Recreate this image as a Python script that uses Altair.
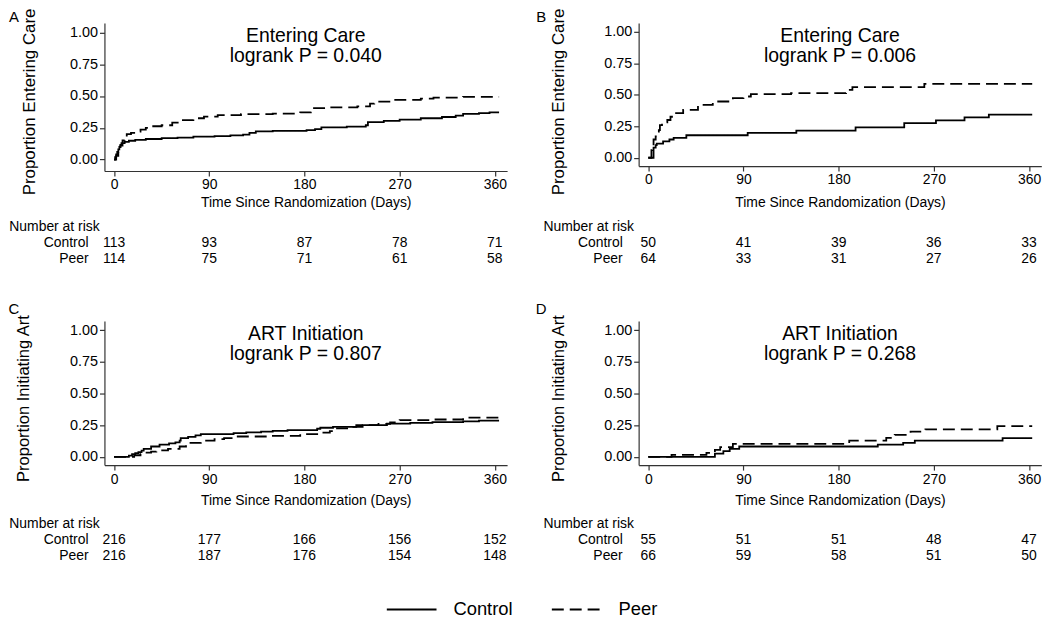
import altair as alt
import pandas as pd

FONT = "Liberation Sans"
W = 405
XDOM = [-9.1, 371.6]
TICKS = [0, 90, 180, 270, 360]
YTICKS = [0, 0.25, 0.5, 0.75, 1.0]
GROUPS = ["Control", "Peer"]
XTITLE = "Time Since Randomization (Days)"

# ---------------- Panel A: Entering Care ----------------
A_ctrl_day = [0, 1, 2, 3, 4, 5, 6, 7, 10, 14, 20, 30, 45, 60, 75, 95, 110, 122, 128, 134, 150,
              182, 190, 196, 220, 238, 240, 255, 270, 290, 310, 323, 330, 345, 355, 364]
A_ctrl_val = [0, 0.02, 0.04, 0.06, 0.08, 0.10, 0.115, 0.13, 0.14, 0.148, 0.155, 0.162, 0.168, 0.172,
              0.18, 0.185, 0.19, 0.197, 0.21, 0.222, 0.225, 0.232, 0.24, 0.253, 0.26, 0.27, 0.295,
              0.305, 0.315, 0.325, 0.335, 0.345, 0.36, 0.365, 0.372, 0.372]
A_peer_day = [0, 2, 4, 6, 8, 10, 12, 16, 20, 25, 30, 37, 45, 55, 62, 75, 85, 98, 120, 150, 176,
              186, 200, 230, 242, 246, 262, 290, 302, 330, 364]
A_peer_val = [0, 0.03, 0.07, 0.11, 0.15, 0.17, 0.20, 0.21, 0.22, 0.235, 0.25, 0.262, 0.27, 0.29,
              0.31, 0.325, 0.338, 0.35, 0.358, 0.362, 0.372, 0.405, 0.41, 0.418, 0.44, 0.455, 0.47,
              0.48, 0.488, 0.493, 0.493]
A_risk_ctrl = [113, 93, 87, 78, 71]
A_risk_peer = [114, 75, 71, 61, 58]

# ---------------- Panel B: Entering Care ----------------
B_ctrl_day = [0, 5, 7, 8, 14, 20, 24, 36, 94, 140, 196, 242, 272, 299, 322, 363]
B_ctrl_val = [0, 0.08, 0.10, 0.113, 0.131, 0.145, 0.158, 0.179, 0.197, 0.216, 0.242, 0.276,
              0.297, 0.321, 0.342, 0.342]
B_peer_day = [0, 3, 4, 5, 7, 8, 10, 11, 13, 18, 21, 25, 33, 47, 61, 80, 90, 97, 135, 187, 193,
              261, 363]
B_peer_val = [0, 0.06, 0.10, 0.145, 0.17, 0.19, 0.22, 0.26, 0.281, 0.30, 0.326, 0.355, 0.381,
              0.421, 0.447, 0.474, 0.487, 0.505, 0.513, 0.539, 0.561, 0.587, 0.587]
B_risk_ctrl = [50, 41, 39, 36, 33]
B_risk_peer = [64, 33, 31, 27, 26]

# ---------------- Panel C: ART Initiation ----------------
C_ctrl_day = [0, 10, 14, 17, 20, 23, 26, 28, 35, 43, 52, 58, 62, 63, 70, 77, 82, 113, 125, 139,
              150, 164, 192, 195, 207, 229, 258, 280, 301, 330, 345, 364]
C_ctrl_val = [0, 0, 0.01, 0.021, 0.03, 0.038, 0.05, 0.064, 0.082, 0.097, 0.107, 0.115, 0.128,
              0.148, 0.158, 0.17, 0.179, 0.187, 0.193, 0.199, 0.205, 0.212, 0.222, 0.23, 0.237,
              0.25, 0.263, 0.268, 0.275, 0.28, 0.286, 0.286]
C_peer_day = [0, 17, 19, 25, 29, 35, 40, 51, 62, 68, 71, 82, 95, 104, 113, 145, 176, 193, 204,
              208, 222, 235, 250, 261, 270, 300, 330, 364]
C_peer_val = [0, 0, 0.013, 0.022, 0.033, 0.042, 0.051, 0.064, 0.082, 0.095, 0.11, 0.128, 0.141,
              0.148, 0.161, 0.166, 0.179, 0.191, 0.204, 0.225, 0.237, 0.25, 0.26, 0.273, 0.29,
              0.295, 0.31, 0.312]
C_risk_ctrl = [216, 177, 166, 156, 152]
C_risk_peer = [216, 187, 176, 154, 148]

# ---------------- Panel D: ART Initiation ----------------
D_ctrl_day = [0, 63, 71, 77, 86, 217, 241, 252, 335, 363]
D_ctrl_val = [0, 0.026, 0.046, 0.064, 0.082, 0.097, 0.11, 0.128, 0.148, 0.148]
D_peer_day = [0, 22, 55, 63, 68, 80, 190, 225, 233, 248, 262, 330, 363]
D_peer_val = [0, 0.016, 0.031, 0.056, 0.077, 0.102, 0.128, 0.15, 0.174, 0.20, 0.217, 0.242, 0.242]
D_risk_ctrl = [55, 51, 51, 48, 47]
D_risk_peer = [66, 59, 58, 51, 50]

LEGEND = alt.Legend(
    orient="none", legendX=283, legendY=563.8, direction="horizontal", title=None,
    symbolType="stroke", symbolSize=2500, symbolStrokeWidth=2, symbolStrokeColor="black",
    labelFontSize=18.5, labelFont=FONT, labelColor="black", labelOffset=16,
    columnPadding=35, padding=0,
)


def panel(letter, title_lines, ytitle, cd, cv, pd_, pv, rc, rp, H, ydom,
          ytitle_x, ytitle_y, ytitle_fs, xtitle_y, let_x, let_y, risk_dy):
    curves = pd.DataFrame({
        "day": cd + pd_,
        "value": cv + pv,
        "group": ["Control"] * len(cd) + ["Peer"] * len(pd_),
    })
    risk = pd.DataFrame({"day": TICKS, "ctrl": rc, "peer": rp})
    one = pd.DataFrame({"k": [0]})

    x = alt.X("day:Q", scale=alt.Scale(domain=XDOM, nice=False, zero=False),
              axis=alt.Axis(values=TICKS, title=XTITLE, titleX=W / 2, titleY=xtitle_y,
                            titleBaseline="alphabetic", titleAlign="center",
                            titleFontSize=14, labelFontSize=14))
    y = alt.Y("value:Q", scale=alt.Scale(domain=ydom, nice=False, zero=False),
              axis=alt.Axis(values=YTICKS, format=".2f", title=ytitle, titleAngle=270,
                            titleX=ytitle_x, titleY=ytitle_y, titleBaseline="alphabetic",
                            titleAlign="center", titleFontSize=ytitle_fs, labelFontSize=14.5))

    lines = alt.Chart(curves).mark_line(
        interpolate="step-after", color="black", strokeWidth=1.8
    ).encode(
        x=x, y=y,
        strokeDash=alt.StrokeDash("group:N", scale=alt.Scale(domain=GROUPS, range=[[1, 0], [12, 6]]),
                                  legend=LEGEND),
    )

    title = alt.Chart(one).mark_text(
        fontSize=19.5, lineHeight=20, baseline="alphabetic", align="center", color="black"
    ).encode(x=alt.value(W / 2), y=alt.value(19.5), text=alt.value(title_lines))

    txt = dict(fontSize=14, baseline="alphabetic", color="black")
    r0, r1, r2 = 208.5 + risk_dy, 224 + risk_dy, 240.5 + risk_dy
    risk_c = alt.Chart(risk).mark_text(align="center", **txt).encode(
        x=x, y=alt.value(r1), text="ctrl:N")
    risk_p = alt.Chart(risk).mark_text(align="center", **txt).encode(
        x=x, y=alt.value(r2), text="peer:N")
    nar = alt.Chart(one).mark_text(align="left", **txt).encode(
        x=alt.value(-95.7), y=alt.value(r0), text=alt.value("Number at risk"))
    lab_c = alt.Chart(one).mark_text(align="right", **txt).encode(
        x=alt.value(-16), y=alt.value(r1), text=alt.value("Control"))
    lab_p = alt.Chart(one).mark_text(align="right", **txt).encode(
        x=alt.value(-16), y=alt.value(r2), text=alt.value("Peer"))
    let = alt.Chart(one).mark_text(
        align="center", baseline="alphabetic", fontSize=15, color="black"
    ).encode(x=alt.value(let_x), y=alt.value(let_y), text=alt.value(letter))

    return alt.layer(lines, title, risk_c, risk_p, nar, lab_c, lab_p, let).properties(
        width=W, height=H)


pA = panel("A", ["Entering Care", "logrank P = 0.040"], "Proportion Entering Care",
           A_ctrl_day, A_ctrl_val, A_peer_day, A_peer_val, A_risk_ctrl, A_risk_peer,
           149, [-0.09, 1.075], -70, 79, 17, 36, -91, -1, 1)
pB = panel("B", ["Entering Care", "logrank P = 0.006"], "Proportion Entering Care",
           B_ctrl_day, B_ctrl_val, B_peer_day, B_peer_val, B_risk_ctrl, B_risk_peer,
           144, [-0.066, 1.072], -76, 79, 17, 40.5, -98, -1, 1)
pC = panel("C", ["ART Initiation", "logrank P = 0.807"], "Proportion Initiating Art",
           C_ctrl_day, C_ctrl_val, C_peer_day, C_peer_val, C_risk_ctrl, C_risk_peer,
           145, [-0.065, 1.073], -76, 77.5, 16.6, 39.5, -91, -7, 0)
pD = panel("D", ["ART Initiation", "logrank P = 0.268"], "Proportion Initiating Art",
           D_ctrl_day, D_ctrl_val, D_peer_day, D_peer_val, D_risk_ctrl, D_risk_peer,
           145, [-0.065, 1.073], -76, 77.5, 16.6, 39.5, -98, -7, 0)

chart = alt.concat(
    pA, pB, pC, pD, columns=2,
    spacing=alt.RowColnumber(row=150.8, column=132.3), bounds="flush",
).properties(
    padding={"left": 0, "top": -2.8, "right": 0, "bottom": 0}
).configure(
    font=FONT
).configure_view(
    stroke=None
).configure_axis(
    grid=False, domainColor="#333333", tickColor="#333333", domainWidth=1.2, tickWidth=1.2,
    tickSize=5, labelPadding=2, labelColor="black", titleColor="black",
    titleFontWeight="normal", labelFont=FONT, titleFont=FONT,
)

chart.save("out.html", embed_options={"renderer": "svg", "actions": False})
